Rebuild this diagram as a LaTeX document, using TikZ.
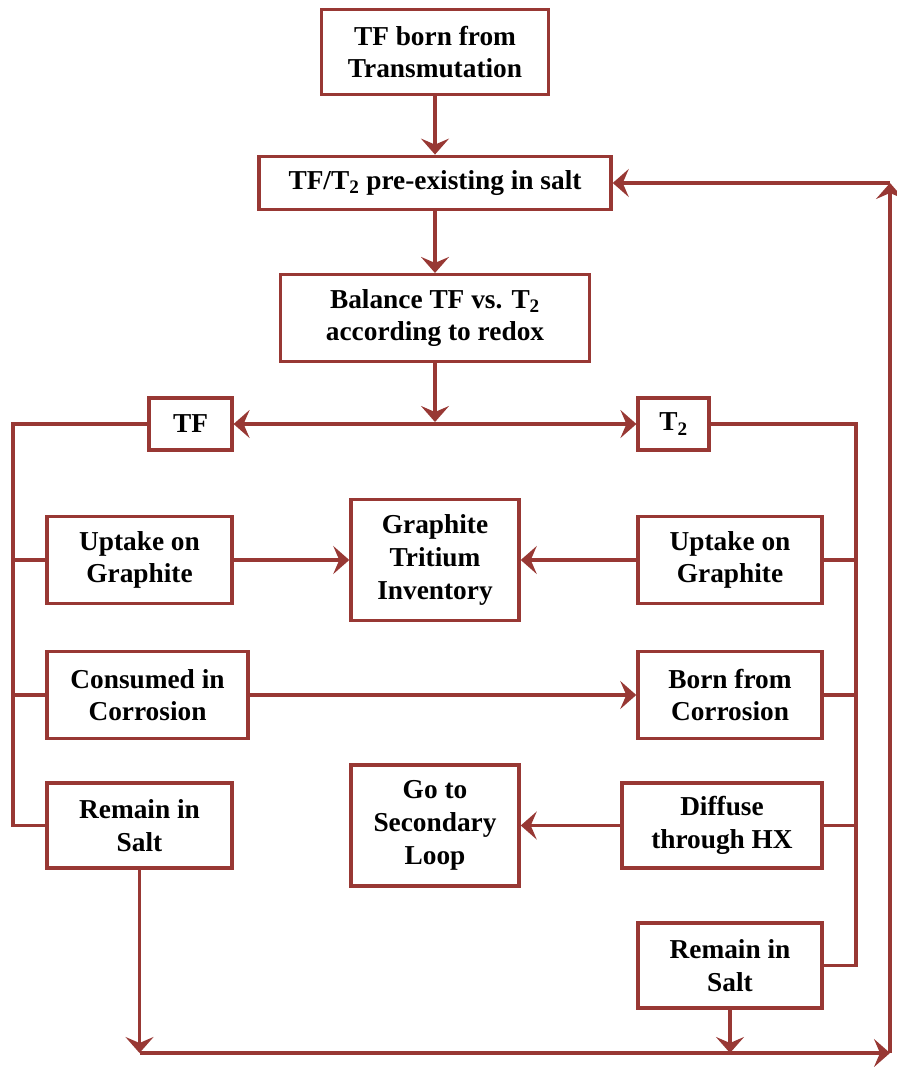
\documentclass[tikz,border=0pt]{standalone}
\usepackage{fontspec}
\setmainfont{Liberation Serif}
\usetikzlibrary{arrows.meta,positioning,calc}
\definecolor{flowred}{RGB}{152,56,52}
\tikzset{
  box/.style={draw=flowred, line width=2.6pt, fill=white, align=center, inner sep=0pt,
    font=\fontsize{20.5}{24.5}\selectfont\bfseries, text=black},
  line/.style={draw=flowred, line width=2.6pt},
  arrow/.style={line, -{Stealth[length=12pt, width=21pt, inset=4.5pt]}}
}

\begin{document}
\begin{tikzpicture}[x=0.75pt,y=-0.75pt]
  \useasboundingbox (0,0) rectangle (896,1067);

  \node[box, minimum width=170pt, minimum height=64pt] (born) at (435,52) {TF born from\\Transmutation};
  \node[box, minimum width=264pt, minimum height=40pt] (preexist) at (435,183) {TF/T\textsubscript{2} pre-existing in salt};
  \node[box, minimum width=232pt, minimum height=65pt] (balance) at (435,318) {Balance TF vs. T\textsubscript{2}\\according to redox};

  \node[box, minimum width=62pt, minimum height=39pt] (tf) at (190.5,424) {TF};
  \node[box, minimum width=53pt, minimum height=39pt] (ttwo) at (673.5,424) {T\textsubscript{2}};

  \node[box, minimum width=139pt, minimum height=65pt] (uptakeL) at (139.5,560) {Uptake on\\Graphite};
  \node[box, minimum width=126pt, minimum height=91pt] (inventory) at (435,560) {Graphite\\Tritium\\Inventory};
  \node[box, minimum width=138pt, minimum height=65pt] (uptakeR) at (730,560) {Uptake on\\Graphite};

  \node[box, minimum width=151pt, minimum height=65pt] (consumed) at (147.5,695) {Consumed in\\Corrosion};
  \node[box, minimum width=138pt, minimum height=65pt] (bornCorr) at (730,695) {Born from\\Corrosion};

  \node[box, minimum width=139pt, minimum height=64pt] (remainL) at (139.5,825.5) {Remain in\\Salt};
  \node[box, minimum width=126pt, minimum height=91pt] (secondary) at (435,825.5) {Go to\\Secondary\\Loop};
  \node[box, minimum width=150pt, minimum height=64pt] (diffuse) at (722,825.5) {Diffuse\\through HX};

  \node[box, minimum width=138pt, minimum height=64pt] (remainR) at (730,965.5) {Remain in\\Salt};

  \coordinate (split) at (435,424);
  \coordinate (lbus) at (13,825.5);
  \coordinate (rbus) at (856,965.5);
  \coordinate (botL) at (139.5,1053);
  \coordinate (botR) at (890,1053);
  \coordinate (topR) at (890,183);

  \draw[arrow] (born) -- (preexist);
  \draw[arrow] (preexist) -- (balance);
  \draw[arrow] (balance) -- ($(split)+(0,-2)$);
  \draw[arrow] (split) -- (tf);
  \draw[arrow] (split) -- (ttwo);

  % TF side
  \draw[line] (tf.west) -| (lbus) -- (remainL.west);
  \draw[line] (uptakeL.west) -- (uptakeL.west -| lbus);
  \draw[line] (consumed.west) -- (consumed.west -| lbus);

  % T2 side
  \draw[line] (ttwo.east) -| (rbus) -- (remainR.east);
  \draw[line] (uptakeR.east) -- (uptakeR.east -| rbus);
  \draw[line] (bornCorr.east) -- (bornCorr.east -| rbus);
  \draw[line] (diffuse.east) -- (diffuse.east -| rbus);

  \draw[arrow] (uptakeL) -- (inventory);
  \draw[arrow] (uptakeR) -- (inventory);
  \draw[arrow] (consumed) -- (bornCorr);
  \draw[arrow] (diffuse) -- (secondary);

  % back to the salt
  \draw[arrow] (remainL.south) -- (botL);
  \draw[arrow] (remainR.south) -- (remainR.south |- botL);
  \draw[arrow] (botL) -- (botR);
  \draw[arrow] (botR) -- (topR);
  \draw[arrow] (topR) -- (preexist.east);
\end{tikzpicture}
\end{document}
